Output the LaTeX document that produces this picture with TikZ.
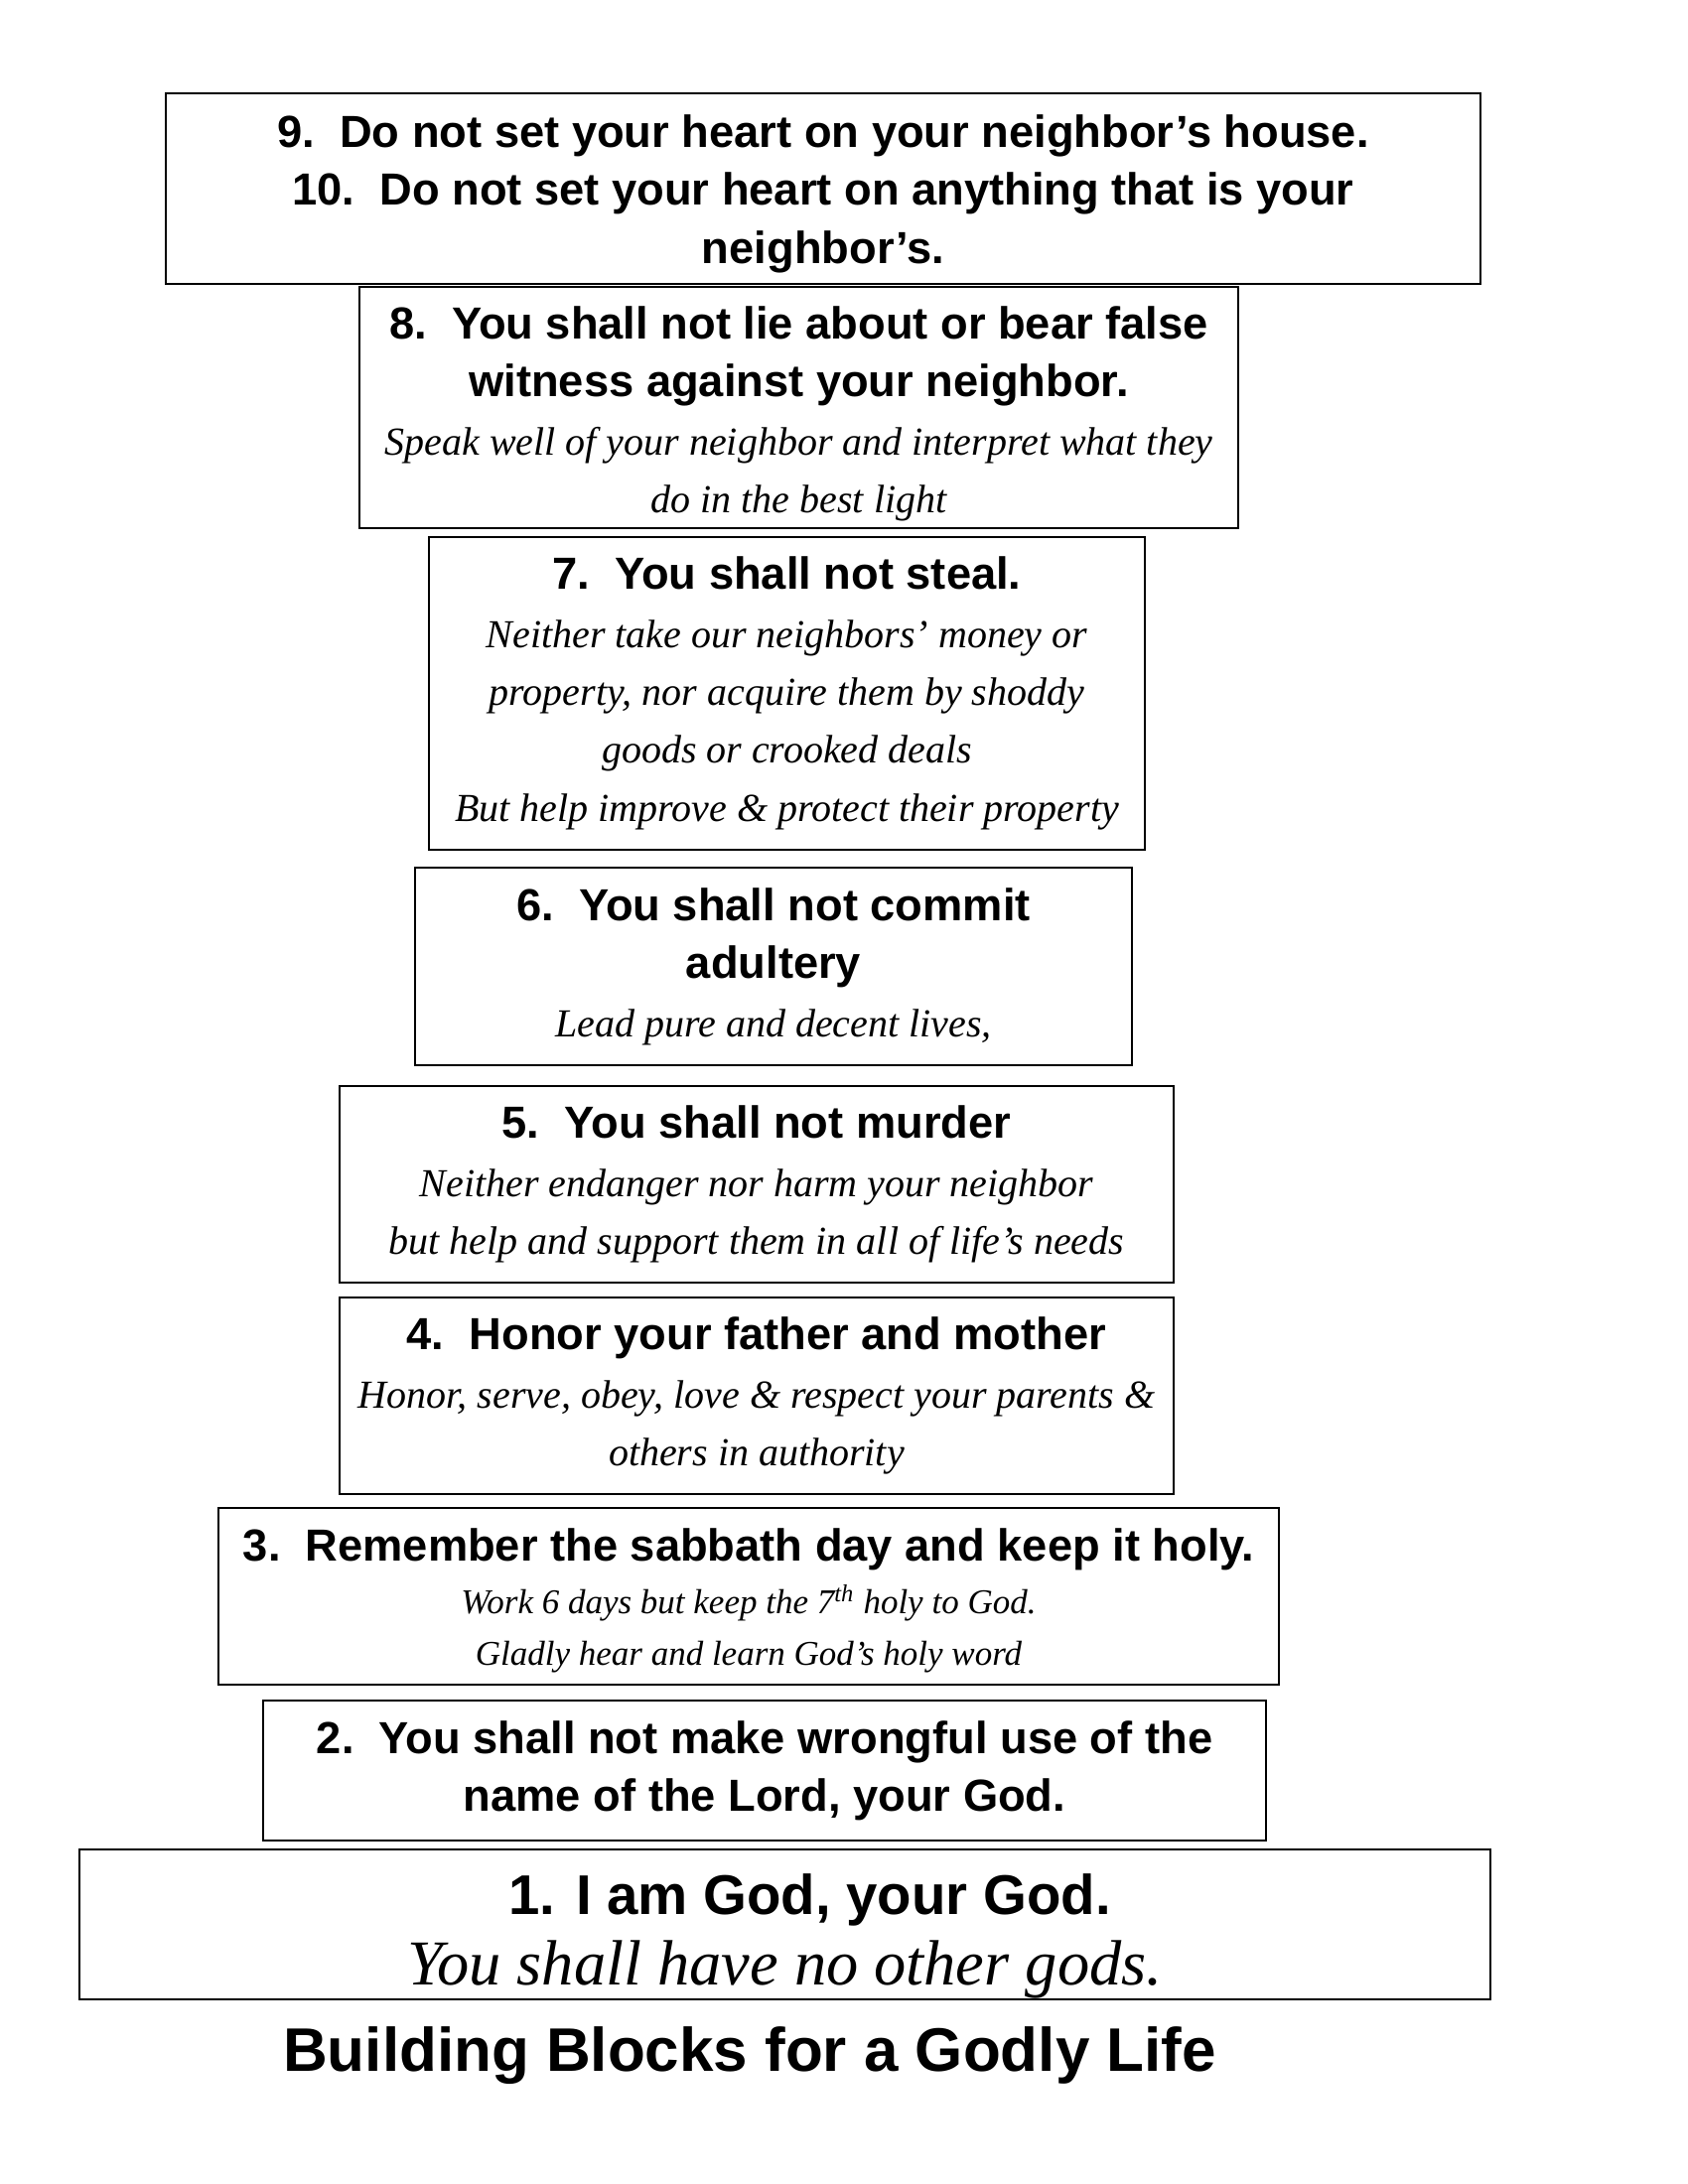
\documentclass[tikz,border=0pt]{standalone}
\usepackage{fontspec}
\setmainfont{Liberation Serif}
\setsansfont{Liberation Sans}
\usetikzlibrary{positioning}

% fonts for the commandment lines and the notes under them
\newcommand\hdfont{\fontsize{16.3bp}{21bp}\selectfont\sffamily\bfseries}
\newcommand\ntfont{\fontsize{14.4bp}{20bp}\selectfont\rmfamily\itshape}
\newcommand\smallnt{\fontsize{12.6bp}{19bp}\selectfont\rmfamily\itshape}
\newcommand\padtop[1]{\rule{0pt}{#1}}

\begin{document}
\begin{tikzpicture}[
    x=0.36bp, y=-0.36bp,
    block/.style={draw, line width=1bp, inner sep=0pt, align=center, font=\fontsize{16.3bp}{21bp}\selectfont},
    boxsize/.style 2 args={minimum width=#1*0.36bp, minimum height=#2*0.36bp},
    title/.style={font=\fontsize{22.3bp}{26bp}\selectfont\sffamily\bfseries}
]
\useasboundingbox (0,0) rectangle (1700,2200);
\fill[white] (0,0) rectangle (1700,2200);

% the blocks, top to bottom
\node[block, boxsize={1324}{192}] (cmd9) at (829,190) {\hdfont\padtop{15.5bp}9.~~Do not set your heart on your neighbor’s house.\\
  \hdfont 10.~~Do not set your heart on anything that is your\\
  \hdfont neighbor’s.};

\node[block, boxsize={885}{243}] (cmd8) at (804.5,410.5) {\hdfont\padtop{16.3bp}8.~~You shall not lie about or bear false\\
  \hdfont witness against your neighbor.\\
  \ntfont Speak well of your neighbor and interpret what they\\
  \ntfont do in the best light};

\node[block, boxsize={721}{315}] (cmd7) at (792.5,698.5) {\hdfont 7.~~You shall not steal.\\
  \ntfont Neither take our neighbors’ money or\\
  \ntfont property, nor acquire them by shoddy\\
  \ntfont goods or crooked deals\\
  \ntfont But help improve \& protect their property};

\node[block, boxsize={722}{199}] (cmd6) at (779,973.5) {\hdfont 6.~~You shall not commit\\
  \hdfont adultery\\
  \ntfont Lead pure and decent lives,};

\node[block, boxsize={840}{198}] (cmd5) at (762,1193) {\hdfont 5.~~You shall not murder\\
  \ntfont Neither endanger nor harm your neighbor\\
  \ntfont but help and support them in all of life’s needs};

\node[block, boxsize={840}{198}] (cmd4) at (762,1406) {\hdfont 4.~~Honor your father and mother\\
  \ntfont Honor, serve, obey, love \& respect your parents \&\\
  \ntfont others in authority};

\node[block, boxsize={1068}{178}, font=\fontsize{16bp}{19bp}\selectfont] (cmd3) at (754,1608) {\hdfont\padtop{15bp}3.~~Remember the sabbath day and keep it holy.\\
  \smallnt Work 6 days but keep the 7\textsuperscript{th} holy to God.\\
  \smallnt Gladly hear and learn God’s holy word};

\node[block, boxsize={1010}{141}] (cmd2) at (770,1783.5) {\hdfont 2.~~You shall not make wrongful use of the\\
  \hdfont name of the Lord, your God.};

\node[block, boxsize={1421}{151}, font=\fontsize{20bp}{25.5bp}\selectfont] (cmd1) at (790.5,1938.5) {\fontsize{20.3bp}{26bp}\selectfont\sffamily\bfseries\padtop{23bp}\hspace*{18bp}1. I am God, your God.\\
  \fontsize{23.2bp}{26bp}\selectfont\rmfamily\itshape You shall have no other gods.};

% caption under the stack
\node[title] (caption) at (755,2071) {Building Blocks for a Godly Life};

\end{tikzpicture}
\end{document}
